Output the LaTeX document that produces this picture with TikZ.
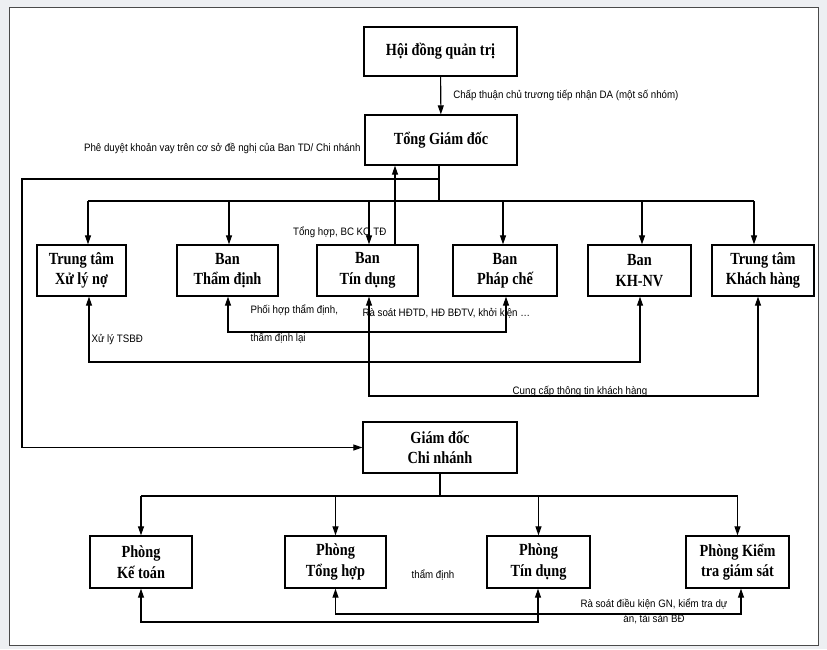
\documentclass[tikz,border=0pt]{standalone}
\usepackage{fontspec}
\setmainfont{Liberation Serif}
\newfontfamily\unitfont[FakeStretch=0.84]{Liberation Serif}
\newfontfamily\notefont[FakeStretch=0.9]{Liberation Sans}
\usetikzlibrary{arrows.meta}
\definecolor{pagegray}{HTML}{EDEFF2}
\definecolor{framegray}{HTML}{4A4A4A}

\begin{document}
\begin{tikzpicture}[->,>={Triangle[length=9pt,width=6pt]},x=1pt,y=-1pt,line width=1.1pt]

  \tikzstyle{unit}=[rectangle,draw,line width=1.3pt,align=center,
                    font=\unitfont\bfseries\fontsize{17}{20.5}\selectfont,
                    minimum width=101pt,minimum height=51pt,inner sep=1pt]
  \tikzstyle{note}=[font=\notefont\fontsize{10.8}{15}\selectfont,
                    inner sep=0pt,align=center]

  % page and frame
  \useasboundingbox (0,0) rectangle (827,649);
  \fill[pagegray] (0,0) rectangle (827,649);
  \draw[-,framegray,fill=white,line width=0.8pt] (9.5,7.5) rectangle (818,645.5);

  % head office
  \node[unit,minimum width=153pt,minimum height=49pt] (HDQT) at (440.5,51.5) {Hội đồng quản trị};
  \node[unit,minimum width=152pt,minimum height=50pt] (TGD)  at (441,140)    {Tổng Giám đốc};

  \node[unit,minimum width=89pt] (XLN)   at (81.5,270.5)  {Trung tâm\\Xử lý nợ};
  \node[unit]                    (TDinh) at (227.5,270.5) {Ban\\Thẩm định};
  \node[unit]                    (TDung) at (367.5,270.5) {Ban\\Tín dụng};
  \node[unit,minimum width=104pt] (PChe) at (505,270.5)   {Ban\\Pháp chế};
  \node[unit,minimum width=103pt] (KHNV) at (639.5,270.5) {Ban\\KH-NV};
  \node[unit,minimum width=102pt] (TTKH) at (763,270.5)   {Trung tâm\\Khách hàng};

  % branch
  \node[unit,minimum width=154pt] (GDCN) at (440,447.5) {Giám đốc\\Chi nhánh};

  \node[unit,minimum width=102pt,minimum height=52pt] (PKT) at (141,562)   {Phòng\\Kế toán};
  \node[unit,minimum height=52pt]                     (PTH) at (335.5,562) {Phòng\\Tổng hợp};
  \node[unit,minimum width=103pt,minimum height=52pt] (PTD) at (538.5,562) {Phòng\\Tín dụng};
  \node[unit,minimum width=103pt,minimum height=52pt] (PKS) at (737.5,562) {Phòng Kiểm\\tra giám sát};

  \coordinate (busA)  at (439,201);
  \coordinate (split) at (439,179);
  \coordinate (busB)  at (440,496);

  \path (HDQT) edge node[note,anchor=west,xshift=12pt] {Chấp thuận chủ trương tiếp nhận DA (một số nhóm)} (TGD);
  \node[note,anchor=east] (pheduyet) at (361,148) {Phê duyệt khoản vay trên cơ sở đề nghị của Ban TD/ Chi nhánh};

  % orders from the head office
  \draw[-] (TGD.south -| busA) -- (busA);
  \draw[-] (88,201) -- (754,201);
  \foreach \n/\x in {XLN/88,TDinh/229,TDung/369,PChe/503,KHNV/642,TTKH/754}
    \draw (\x,201) -- (\x,0 |- \n.north);
  \draw (split) -| (22,0 |- GDCN.west) -- (GDCN.west);

  % reports and links between units
  \draw (395,0 |- TDung.north) -- (395,0 |- TGD.south);
  \node[note,anchor=east] (tonghop) at (387,232) {Tổng hợp, BC KQ TĐ};

  \draw[<->] (89,0 |- XLN.south) |- (640,362) -- (640,0 |- KHNV.south);
  \node[note,anchor=west] (xuly) at (91,340) {Xử lý TSBĐ};

  \draw[<->] (228,0 |- TDinh.south) |- (506,332) -- (506,0 |- PChe.south);
  \node[note,anchor=west] (phoihop) at (250,310) {Phối hợp thẩm định,};
  \node[note,anchor=west] (lai)     at (250,338) {thẩm định lại};
  \node[note,anchor=west] (rasoat)  at (362,313) {Rà soát HĐTD, HĐ BĐTV, khởi kiện …};

  \draw[<->] (369,0 |- TDung.south) |- (758,396) -- (758,0 |- TTKH.south);
  \node[note,anchor=base] (cungcap) at (580,394) {Cung cấp thông tin khách hàng};

  % branch units
  \draw[-] (GDCN.south) -- (busB);
  \draw[-] (PKT.north |- busB) -- (PKS.north |- busB);
  \foreach \n in {PKT,PTH,PTD,PKS}
    \draw (\n.north |- busB) -- (\n.north);

  \draw[<->] (PKT.south) |- (538,622) -- (538,0 |- PTD.south);
  \draw[<->] (PTH.south) |- (741,614) -- (741,0 |- PKS.south);
  \node[note] (thamdinh) at (433,575) {thẩm định};
  \node[note] (dieukien) at (654,611.5) {Rà soát điều kiện GN, kiểm tra dự\\án, tài sản BĐ};

\end{tikzpicture}
\end{document}
